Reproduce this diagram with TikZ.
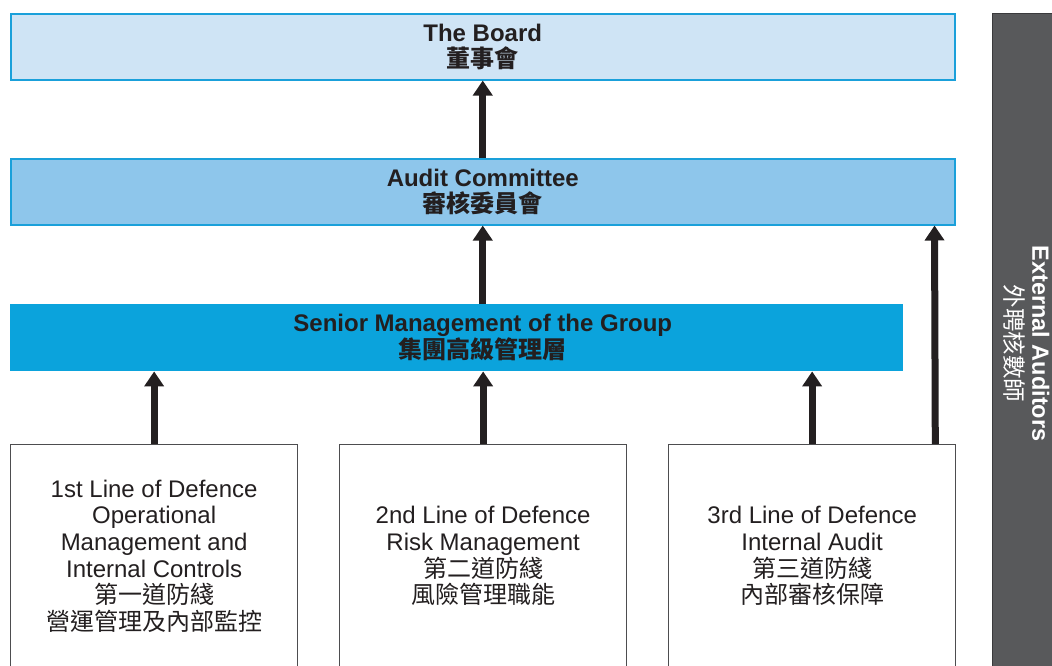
\documentclass[tikz,border=0pt]{standalone}
\usepackage{fontspec}
\setmainfont{Liberation Sans}
\newfontfamily\cjk{Noto Sans CJK TC}
\usetikzlibrary{arrows.meta}
\definecolor{boardfill}{HTML}{CFE4F5}
\definecolor{auditfill}{HTML}{8EC6EB}
\definecolor{seniorfill}{HTML}{0BA3DC}
\definecolor{edgeblue}{HTML}{1AA0DA}
\definecolor{sidegray}{HTML}{58595B}
\definecolor{sideedge}{HTML}{3A3A3C}
\definecolor{ink}{HTML}{231F20}
\definecolor{boxedge}{HTML}{4D4D4F}
\tikzset{
  topbox/.style={draw=edgeblue, line width=1.5pt, anchor=north west, inner sep=0pt,
    minimum width=944pt, minimum height=66pt, align=center, text=ink,
    font=\fontsize{24}{26.5}\selectfont\bfseries},
  toptext/.style={align=center, text=ink, inner sep=0pt,
    font=\fontsize{24}{26.5}\selectfont\bfseries},
  linebox/.style={draw=boxedge, line width=1.3pt, fill=white, anchor=north west, inner sep=0pt,
    minimum width=287pt, minimum height=223pt, align=center, text=ink,
    font=\fontsize{24}{26.6}\selectfont},
  uparrow/.style={draw=ink, line width=7pt, -{Triangle[width=19pt,length=15pt]}, shorten <=0pt},
}
\begin{document}
\begin{tikzpicture}[x=1pt,y=-1pt]
\useasboundingbox[fill=white] (0,0) rectangle (1052,665);
% boxes
\node[topbox, fill=boardfill] (board) at (10,13) {The Board\\{\cjk\bfseries 董事會}};
\node[topbox, fill=auditfill] (audit) at (10,158) {Audit Committee\\{\cjk\bfseries 審核委員會}};
\node[fill=seniorfill, anchor=north west, inner sep=0pt, minimum width=893pt, minimum height=67pt] (senior) at (10,304) {};
\node[toptext] (seniortext) at (senior.center -| audit.center)
  {Senior Management of the Group\\{\cjk\bfseries 集團高級管理層}};
\node[linebox] (l1) at (10,444) {1st Line of Defence\\Operational\\Management and\\Internal Controls\\{\cjk 第一道防綫}\\{\cjk 營運管理及內部監控}};
\node[linebox] (l2) at (339,444) {2nd Line of Defence\\Risk Management\\{\cjk 第二道防綫}\\{\cjk 風險管理職能}};
\node[linebox] (l3) at (668,444) {3rd Line of Defence\\Internal Audit\\{\cjk 第三道防綫}\\{\cjk 內部審核保障}};
% side bar
\node[draw=sideedge, line width=1pt, fill=sidegray, anchor=north west, inner sep=0pt,
  minimum width=62pt, minimum height=656pt] (side) at (992,13) {};
\node[rotate=-90, align=center, text=white, inner sep=0pt,
  font=\fontsize{23.5}{27}\selectfont] (sidetext) at ([xshift=3pt,yshift=-2pt]side.center)
  {\bfseries External Auditors\\{\cjk 外聘核數師}};
% arrows
\draw[uparrow] (audit.north) -- (board.south);
\draw[uparrow] (senior.north -| audit.north) -- (audit.south);
\draw[uparrow] (l1.north) -- (l1.north |- senior.south);
\draw[uparrow] (l2.north) -- (l2.north |- senior.south);
\draw[uparrow] (l3.north) -- (l3.north |- senior.south);
\draw[uparrow] ([xshift=-21pt]l3.north east) -- ([xshift=-21pt]audit.south east);
\end{tikzpicture}
\end{document}
